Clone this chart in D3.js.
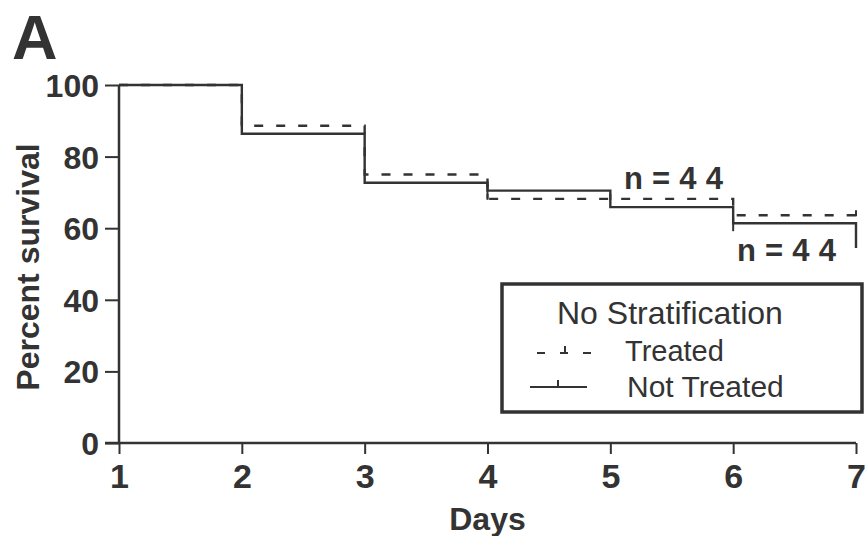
<!DOCTYPE html>
<html>
<head>
<meta charset="utf-8">
<script src="https://cdn.jsdelivr.net/npm/d3@7"></script>
<style>
  body { margin: 0; background: #fff; }
  text { font-family: "Liberation Sans", Arial, sans-serif; fill: #333; }
</style>
</head>
<body>
<div id="chart"></div>
<script>
// Data
const days = [1, 2, 3, 4, 5, 6, 7];
const treated = [100, 88.6, 75.0, 68.2, 68.2, 63.6, 63.6];
const notTreated = [100, 86.4, 72.7, 70.5, 65.9, 61.4, 54.5];
const treatedCensor = [2, 4, 5, 7];
const notTreatedCensor = [4, 6];
const yTicks = [0, 20, 40, 60, 80, 100];
const nLabels = ["n = 4 4", "n = 4 4"];

const width = 867, height = 536;
const ink = "#333";

const svg = d3.select("#chart").append("svg")
    .attr("width", width)
    .attr("height", height);

const x = d3.scaleLinear().domain([1, 7]).range([119, 856]);
const y = d3.scaleLinear().domain([0, 100]).range([443, 85]);

// panel letter
svg.append("text")
    .attr("x", 12).attr("y", 59)
    .style("font-size", "63px").style("font-weight", "bold")
    .text("A");

// x axis
let xAxis = svg.append("g")
    .attr("transform", `translate(0,${y(0)})`)
    .call(d3.axisBottom(x).tickValues(days).tickFormat(d3.format("d")).tickSize(11).tickPadding(10));
xAxis.select(".domain").attr("d", `M105,0H${x(7)}`).attr("stroke", ink).attr("stroke-width", 2.5);
xAxis.selectAll(".tick line").attr("stroke", ink).attr("stroke-width", 2);
xAxis.selectAll(".tick text")
    .style("font-size", "34px").style("font-weight", "bold")
    .attr("fill", ink);

// y axis
let yAxis = svg.append("g")
    .attr("transform", `translate(${x(1)},0)`)
    .call(d3.axisLeft(y).tickValues(yTicks).tickSize(14).tickPadding(6));
yAxis.select(".domain").attr("d", `M0,${y(100)}V${y(0)}`).attr("stroke", ink).attr("stroke-width", 2.5);
yAxis.selectAll(".tick line").attr("stroke", ink).attr("stroke-width", 2);
yAxis.selectAll(".tick text")
    .style("font-size", "32px").style("font-weight", "bold")
    .attr("fill", ink).attr("dy", "0.36em");

// axis titles
svg.append("text")
    .attr("transform", `translate(39,${(y(0) + y(100)) / 2 + 3}) rotate(-90)`)
    .attr("text-anchor", "middle")
    .style("font-size", "32px").style("font-weight", "bold")
    .text("Percent survival");

svg.append("text")
    .attr("x", (x(1) + x(7)) / 2).attr("y", 530)
    .attr("text-anchor", "middle")
    .style("font-size", "32px").style("font-weight", "bold")
    .text("Days");

// survival curves
const line = d3.line()
    .x((d, i) => x(days[i]))
    .y(d => y(d))
    .curve(d3.curveStepAfter);

svg.append("path")
    .datum(notTreated)
    .attr("d", line)
    .attr("fill", "none").attr("stroke", ink).attr("stroke-width", 2.4);

svg.append("path")
    .datum(treated)
    .attr("d", line)
    .attr("fill", "none").attr("stroke", ink).attr("stroke-width", 2.4)
    .attr("stroke-dasharray", "9,13");

// censor ticks
const valueAt = (arr, d) => arr[days.indexOf(d)];
svg.selectAll(".ct")
    .data(treatedCensor)
    .enter().append("line")
    .attr("x1", d => x(d)).attr("x2", d => x(d))
    .attr("y1", d => y(valueAt(treated, d)) - 5)
    .attr("y2", d => y(valueAt(treated, d)) + 1)
    .attr("stroke", ink).attr("stroke-width", 2);
svg.selectAll(".cn")
    .data(notTreatedCensor)
    .enter().append("line")
    .attr("x1", d => x(d)).attr("x2", d => x(d))
    .attr("y1", d => y(valueAt(notTreated, d)) - 6)
    .attr("y2", d => y(valueAt(notTreated, d)) + 8)
    .attr("stroke", ink).attr("stroke-width", 2);

// n labels
svg.append("text")
    .attr("x", 624).attr("y", 189)
    .style("font-size", "31px").style("font-weight", "bold")
    .attr("textLength", 99)
    .text(nLabels[0]);
svg.append("text")
    .attr("x", 737).attr("y", 261)
    .style("font-size", "31px").style("font-weight", "bold")
    .attr("textLength", 99)
    .text(nLabels[1]);

// legend
const lg = svg.append("g");
lg.append("rect")
    .attr("x", 502).attr("y", 284)
    .attr("width", 360).attr("height", 128)
    .attr("fill", "#fff").attr("stroke", ink).attr("stroke-width", 3.5);
lg.append("text")
    .attr("x", 557).attr("y", 324)
    .style("font-size", "32px")
    .text("No Stratification");
lg.append("line")
    .attr("x1", 537).attr("x2", 593).attr("y1", 353).attr("y2", 353)
    .attr("stroke", ink).attr("stroke-width", 2).attr("stroke-dasharray", "8,15");
lg.append("line")
    .attr("x1", 565).attr("x2", 565).attr("y1", 346).attr("y2", 353)
    .attr("stroke", ink).attr("stroke-width", 2);
lg.append("text")
    .attr("x", 625).attr("y", 361)
    .style("font-size", "29px")
    .text("Treated");
lg.append("line")
    .attr("x1", 530).attr("x2", 587).attr("y1", 387).attr("y2", 387)
    .attr("stroke", ink).attr("stroke-width", 2);
lg.append("line")
    .attr("x1", 558).attr("x2", 558).attr("y1", 380).attr("y2", 387)
    .attr("stroke", ink).attr("stroke-width", 2);
lg.append("text")
    .attr("x", 627).attr("y", 397)
    .style("font-size", "30px")
    .text("Not Treated");
</script>
</body>
</html>
